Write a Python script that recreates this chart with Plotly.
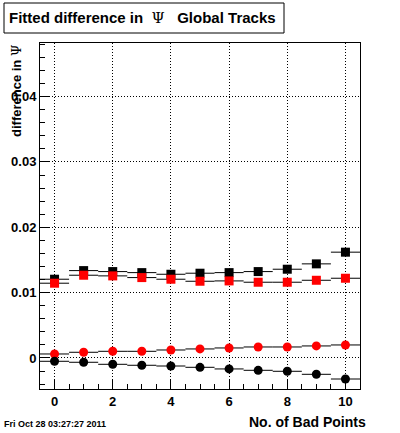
import plotly.graph_objects as go

bad_points = [0, 1, 2, 3, 4, 5, 6, 7, 8, 9, 10]
black_squares = [0.01205, 0.01337, 0.01322, 0.01306, 0.01281, 0.01297, 0.01306, 0.01322, 0.01358, 0.0144, 0.01619]
red_squares = [0.01144, 0.01266, 0.01256, 0.0123, 0.01205, 0.01174, 0.01179, 0.01159, 0.01159, 0.01189, 0.0122]
red_circles = [0.00061, 0.00087, 0.00102, 0.00102, 0.00122, 0.00138, 0.00153, 0.00168, 0.00168, 0.00184, 0.00199]
black_circles = [-0.00051, -0.00066, -0.00097, -0.00112, -0.00123, -0.00143, -0.00168, -0.00189, -0.00204, -0.0025, -0.00322]
x_err = [0.5] * len(bad_points)

series = [
    (black_squares, "square", "black"),
    (red_squares, "square", "red"),
    (red_circles, "circle", "red"),
    (black_circles, "circle", "black"),
]

fig = go.Figure()
for ys, sym, col in series:
    fig.add_trace(go.Scatter(
        x=bad_points, y=ys, mode="markers",
        marker=dict(symbol=sym, size=9, color=col, line=dict(width=0)),
        error_x=dict(type="data", array=x_err, width=0, thickness=1, color="black"),
        showlegend=False,
    ))

W, H = 400, 433
L, R, T, B = 40, 40, 43, 44
pw, ph = W - L - R, H - T - B
def px(x): return (x - L) / pw
def py(y): return (H - B - y) / ph

font = "Liberation Sans, Arial, sans-serif"
grid_dash = "1px,2px"
fig.update_layout(
    width=W, height=H,
    margin=dict(l=L, r=R, t=T, b=B),
    paper_bgcolor="white", plot_bgcolor="white",
    font=dict(family=font, color="black"),
    xaxis=dict(range=[-0.5, 10.5], tickvals=[0, 2, 4, 6, 8, 10], ticks="inside", ticklen=10,
               tickcolor="black", tickwidth=1,
               minor=dict(dtick=0.5, ticks="inside", ticklen=5, tickcolor="black", showgrid=False),
               showgrid=True, gridcolor="black", griddash=grid_dash, gridwidth=1,
               showline=True, linecolor="black", linewidth=1, mirror=True, zeroline=False,
               tickfont=dict(size=13, weight="bold", family=font)),
    yaxis=dict(range=[-0.00475, 0.0482], tickvals=[0, 0.01, 0.02, 0.03, 0.04],
               ticktext=["0", "0.01", "0.02", "0.03", "0.04"],
               ticks="inside", ticklen=10, tickcolor="black", tickwidth=1,
               minor=dict(dtick=0.002, tick0=0, ticks="inside", ticklen=5, tickcolor="black", showgrid=False),
               showgrid=True, gridcolor="black", griddash=grid_dash, gridwidth=1,
               showline=True, linecolor="black", linewidth=1, mirror=True, zeroline=False,
               tickfont=dict(size=13, weight="bold", family=font)),
)

fig.add_shape(type="rect", xref="paper", yref="paper",
              x0=px(4), x1=px(284), y0=py(33), y1=py(3),
              line=dict(color="black", width=1), fillcolor="white")
fig.add_annotation(xref="paper", yref="paper", x=px(142), y=py(18),
                   text="<b>Fitted difference in</b>  <span style='font-family:DejaVu Serif'>Ψ</span>   <b>Global Tracks</b>",
                   showarrow=False, font=dict(size=15, family=font), xanchor="center", yanchor="middle")
fig.add_annotation(xref="paper", yref="paper", x=px(16), y=1.0,
                   text="<b>difference in</b> <span style='font-family:DejaVu Serif'>Ψ</span>",
                   textangle=-90, showarrow=False, font=dict(size=13, family=font),
                   xanchor="center", yanchor="top")
fig.add_annotation(xref="paper", yref="paper", x=px(368), y=py(422),
                   text="<b>No. of Bad Points</b>", showarrow=False,
                   font=dict(size=14, family=font), xanchor="right", yanchor="middle")
fig.add_annotation(xref="paper", yref="paper", x=px(2), y=py(424),
                   text="<b>Fri Oct 28 03:27:27 2011</b>", showarrow=False,
                   font=dict(size=9, family=font), xanchor="left", yanchor="middle")

fig.write_html("out.html", config={"displayModeBar": False},
               post_script="document.body.style.margin='0';document.body.style.overflow='hidden';")
